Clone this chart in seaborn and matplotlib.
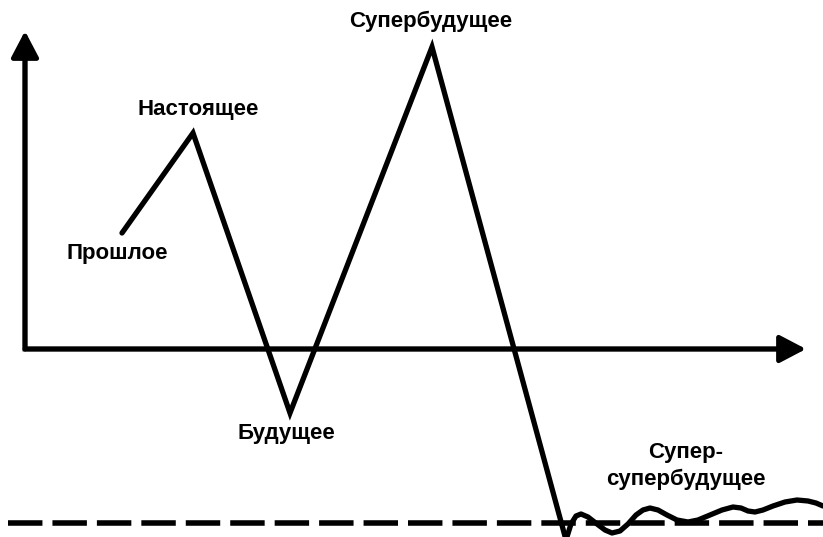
import pandas as pd
import matplotlib.pyplot as plt
import seaborn as sns

# main zig-zag: past -> present -> future -> superfuture -> fall
main_x = [122, 193, 290, 432, 566]
main_y = [233, 133, 413, 47, 540]

# super-superfuture oscillation near the dashed level
wave_x = [566, 571, 576, 581, 588, 597, 605, 612, 620, 628, 636, 643, 650,
          658, 667, 677, 688, 698, 710, 722, 733, 741, 748, 755, 763, 773,
          785, 797, 808, 816, 823]
wave_y = [540, 524, 516, 514, 517, 524, 530, 533, 531, 524, 515, 510, 508,
          510, 515, 520, 522, 520, 515, 510, 507, 508, 511, 512, 510, 506,
          502, 500, 501, 503, 506]

labels = ['Прошлое', 'Настоящее', 'Будущее', 'Супербудущее', 'Супер-\nсупербудущее']
label_x = [117, 198, 286, 431, 686]
label_y = [253, 109, 433, 21, 466]

level_y = 523
origin = (25, 349)

sns.set_theme(style='white')
plt.rcParams['font.family'] = ['Liberation Sans', 'DejaVu Sans']

main_df = pd.DataFrame({'x': main_x, 'y': main_y})
wave_df = pd.DataFrame({'x': wave_x, 'y': wave_y})

fig = plt.figure(figsize=(8.23, 5.37), dpi=100)
ax = fig.add_axes([0, 0, 1, 1])

# axes with arrows
ax.plot([origin[0], origin[0], 790], [60, origin[1], origin[1]],
        color='black', lw=3.5, solid_joinstyle='miter', solid_capstyle='butt',
        snap=False)
arrow = dict(arrowstyle='-|>,head_length=0.8,head_width=0.42', color='black',
             lw=3.5, mutation_scale=20, shrinkA=0, shrinkB=0)
ax.annotate('', xy=(806, origin[1]), xytext=(origin[0], origin[1]), arrowprops=arrow)
ax.annotate('', xy=(origin[0], 31), xytext=(origin[0], origin[1]), arrowprops=arrow)

# dashed level line
ax.plot([8, 823], [level_y, level_y], color='black', lw=4, dashes=(6.2, 1.8))

sns.lineplot(data=main_df, x='x', y='y', sort=False, estimator=None, ax=ax,
             color='black', lw=3.8)
ax.lines[-1].set_solid_joinstyle('miter')
sns.lineplot(data=wave_df, x='x', y='y', sort=False, estimator=None, ax=ax,
             color='black', lw=3.8)
ax.lines[-1].set_solid_joinstyle('round')

for t, x, y in zip(labels, label_x, label_y):
    ax.text(x, y, t, ha='center', va='center', fontsize=16, fontweight='bold',
            color='black', linespacing=1.3)

ax.set_xlim(0, 823)
ax.set_ylim(537, 0)
ax.axis('off')

plt.savefig('out.png', dpi=100)
